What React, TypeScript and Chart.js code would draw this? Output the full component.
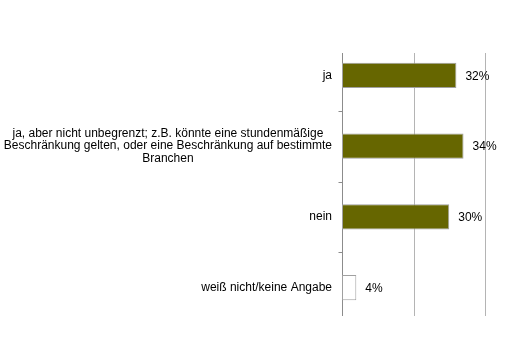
import React, { useEffect, useRef } from "react";
import { Chart, registerables } from "chart.js";

Chart.register(...registerables);

const categories: (string | string[])[] = [
  "ja",
  [
    "ja, aber nicht unbegrenzt; z.B. könnte eine stundenmäßige",
    "Beschränkung gelten, oder eine Beschränkung auf bestimmte",
    "Branchen",
  ],
  "nein",
  "weiß nicht/keine Angabe",
];
const values = [32, 34, 30, 4];
const barColors = ["#666600", "#666600", "#666600", "#ffffff"];
const gridValues = [0, 20, 40];
const FONT = '12px "Liberation Sans", Arial, sans-serif';

const customPlugin = {
  id: "customDraw",
  beforeDatasetsDraw(chart: any) {
    const { ctx, chartArea, scales } = chart;
    const x = scales.x;
    const y = scales.y;
    const top = chartArea.top + 13;
    const bottom = chartArea.bottom - 7;
    ctx.save();
    gridValues.forEach((v) => {
      const px = Math.round(x.getPixelForValue(v)) + 0.5;
      ctx.strokeStyle = v === 0 ? "#8c8c8c" : "#b4b4b4";
      ctx.lineWidth = 1;
      ctx.beginPath();
      ctx.moveTo(px, top);
      ctx.lineTo(px, bottom);
      ctx.stroke();
    });
    // category boundary ticks
    const x0 = Math.round(x.getPixelForValue(0)) + 0.5;
    for (let i = 1; i < categories.length; i++) {
      const py =
        Math.round((y.getPixelForValue(i - 1) + y.getPixelForValue(i)) / 2) + 0.5;
      ctx.strokeStyle = "#8c8c8c";
      ctx.beginPath();
      ctx.moveTo(x0 - 4, py);
      ctx.lineTo(x0, py);
      ctx.stroke();
    }
    ctx.restore();
  },
  afterDatasetsDraw(chart: any) {
    const { ctx, scales } = chart;
    const y = scales.y;
    const x = scales.x;
    ctx.save();
    ctx.font = FONT;
    ctx.fillStyle = "#000000";
    ctx.textBaseline = "middle";
    // category labels
    const rightEdge = x.getPixelForValue(0) - 10;
    const lineH = 12.5;
    categories.forEach((cat, i) => {
      const lines = Array.isArray(cat) ? cat : [cat];
      const maxW = Math.max(...lines.map((l) => ctx.measureText(l).width));
      const cx = rightEdge - maxW / 2;
      const cy = y.getPixelForValue(i);
      ctx.textAlign = "center";
      lines.forEach((l, j) => {
        ctx.fillText(l, cx, cy + (j - (lines.length - 1) / 2) * lineH);
      });
    });
    // value labels
    const meta = chart.getDatasetMeta(0);
    ctx.textAlign = "left";
    meta.data.forEach((bar: any, i: number) => {
      ctx.fillText(values[i] + "%", bar.x + 9, bar.y + 1);
    });
    ctx.restore();
  },
};

export default function App() {
  const canvasRef = useRef<HTMLCanvasElement | null>(null);

  useEffect(() => {
    document.body.style.margin = "0";
    const canvas = canvasRef.current;
    if (!canvas) return;
    const chart = new Chart(canvas, {
      type: "bar",
      data: {
        labels: categories as any,
        datasets: [
          {
            data: values,
            backgroundColor: barColors,
            borderColor: "#a0a0a0",
            borderWidth: 1,
            borderSkipped: false,
            barPercentage: 0.355,
            categoryPercentage: 1,
          },
        ],
      },
      options: {
        indexAxis: "y",
        animation: false,
        responsive: false,
        maintainAspectRatio: false,
        layout: { padding: { left: 342, right: 22, top: 40, bottom: 34 } },
        plugins: {
          legend: { display: false },
          tooltip: { enabled: false },
        },
        scales: {
          x: {
            min: 0,
            max: 40,
            display: false,
          },
          y: {
            display: false,
          },
        },
      },
      plugins: [customPlugin],
    });
    return () => chart.destroy();
  }, []);

  return (
    <div style={{ position: "absolute", left: 0, top: 0, width: 507, height: 357, background: "#fff" }}>
      <canvas ref={canvasRef} width={507} height={357} style={{ width: 507, height: 357 }} />
    </div>
  );
}
